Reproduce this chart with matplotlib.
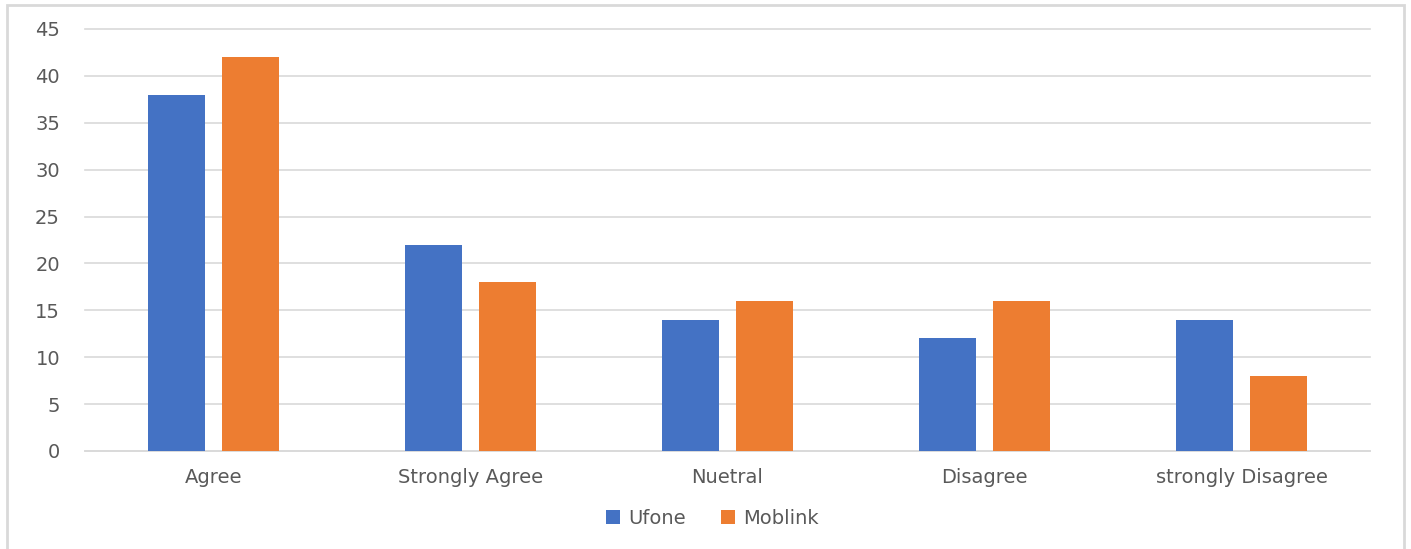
import numpy as np
import matplotlib.pyplot as plt
from matplotlib.patches import Rectangle

categories = ["Agree", "Strongly Agree", "Nuetral", "Disagree", "strongly Disagree"]
ufone = [38, 22, 14, 12, 14]
moblink = [42, 18, 16, 16, 8]
yticks = [0, 5, 10, 15, 20, 25, 30, 35, 40, 45]

plt.rcParams["font.family"] = ["DejaVu Sans"]
text_color = "#595959"

fig = plt.figure(figsize=(14.11, 5.49), dpi=100)
ax = fig.add_axes([85 / 1411, 1 - 451 / 549, 1285 / 1411, 422 / 549])

# outer chart border
fig.patches.append(Rectangle((7 / 1411, -0.01), 1397 / 1411, 1 - 5 / 549 + 0.01,
                             transform=fig.transFigure, fill=False,
                             edgecolor="#d9d9d9", linewidth=2))

x = np.arange(len(categories))
w = 0.222
off = 0.143
ax.bar(x - off, ufone, w, color="#4472C4", label="Ufone", zorder=3)
ax.bar(x + off, moblink, w, color="#ED7D31", label="Moblink", zorder=3)

ax.set_xlim(-0.5, len(categories) - 0.5)
ax.set_ylim(0, 45)
ax.set_yticks(yticks)
ax.yaxis.grid(True, color="#d9d9d9", linewidth=1.2, zorder=0)
for gl in ax.get_ygridlines():
    gl.set_clip_on(False)
ax.set_xticks(x)
ax.set_xticklabels(categories)
ax.tick_params(axis="both", length=0, labelsize=14, colors=text_color)
ax.tick_params(axis="x", pad=12)
ax.tick_params(axis="y", pad=18)
for s in ["top", "right", "left"]:
    ax.spines[s].set_visible(False)
ax.spines["bottom"].set_color("#d9d9d9")
ax.spines["bottom"].set_linewidth(1.2)

leg = fig.legend(loc="center", bbox_to_anchor=(712 / 1411, 1 - 518 / 549), ncol=2,
                 frameon=False, fontsize=14, handlelength=0.75, handleheight=0.75,
                 columnspacing=1.8, handletextpad=0.4)
for t in leg.get_texts():
    t.set_color(text_color)

plt.savefig("out.png", dpi=100)
